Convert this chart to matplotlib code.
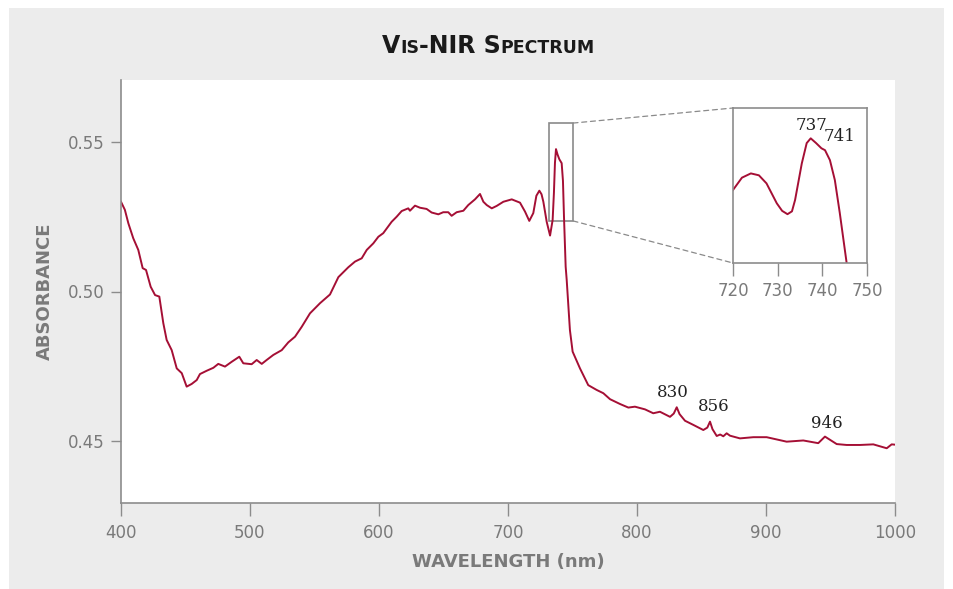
import matplotlib
matplotlib.use("Agg")
import matplotlib.pyplot as plt
from matplotlib.patches import Rectangle, ConnectionPatch

# spectrum (nm, absorbance)
wavelength = [400, 403, 405.7, 409.5, 413.4, 416.8, 419.4, 423, 426.4, 429.7,
              432.8, 435.4, 439.3, 443.2, 447.1, 450.9, 454.8, 458.7, 461.2, 466.4,
              471.6, 475.4, 480.6, 485.8, 491.7, 494.8, 501.3, 505.2, 509.1, 512.9,
              518.1, 524.6, 529.7, 534.9, 540.1, 546.5, 554.3, 562, 568.5, 576.2,
              581.4, 586.6, 590.5, 595.6, 599.5, 603.3, 609.8, 613.7, 617.6, 622.7,
              624, 627.9, 631.8, 636.9, 640.8, 646, 649.8, 653.7, 656.3, 660.2,
              665.4, 669.2, 674.4, 678.3, 680.9, 683.5, 687.4, 691.2, 696.4, 702.9,
              709.3, 713.2, 716.5, 719.6, 722, 724.3, 726, 727.4, 730, 732.6,
              734.6, 735.6, 736.4, 737.2, 738.4, 739.8, 741.6, 742.6, 743.4, 744.7,
              745.5, 748, 750.1, 755.8, 762.2, 768.7, 773.9, 779.1, 786.8, 793.3,
              798.4, 806.2, 812.6, 817.8, 825.6, 828.5, 830.8, 833, 837.2, 843.7,
              851.4, 854.5, 856.6, 858.5, 861.8, 864.5, 866.9, 869.5, 872.1, 879.8,
              890.2, 900.5, 916, 928.9, 940.5, 945.7, 954.8, 962.5, 972.9, 983.2,
              993.6, 997.4, 1000]
absorbance = [0.5300, 0.5273, 0.5228, 0.5178, 0.5139, 0.5078, 0.5072, 0.5016, 0.4988, 0.4983,
              0.4894, 0.4838, 0.4804, 0.4743, 0.4727, 0.4682, 0.4691, 0.4704, 0.4724, 0.4735,
              0.4745, 0.4758, 0.4749, 0.4765, 0.4782, 0.4760, 0.4757, 0.4771, 0.4758, 0.4771,
              0.4788, 0.4804, 0.4830, 0.4849, 0.4882, 0.4927, 0.4961, 0.4990, 0.5048, 0.5081,
              0.5100, 0.5111, 0.5139, 0.5161, 0.5183, 0.5195, 0.5233, 0.5250, 0.5269, 0.5278,
              0.5270, 0.5287, 0.5280, 0.5276, 0.5264, 0.5258, 0.5265, 0.5265, 0.5253, 0.5265,
              0.5270, 0.5289, 0.5308, 0.5326, 0.5300, 0.5289, 0.5278, 0.5286, 0.5300, 0.5308,
              0.5297, 0.5267, 0.5236, 0.5262, 0.5320, 0.5337, 0.5325, 0.5300, 0.5233, 0.5187,
              0.5239, 0.5330, 0.5430, 0.5476, 0.5458, 0.5442, 0.5429, 0.5370, 0.5250, 0.5083,
              0.5039, 0.4871, 0.4799, 0.4743, 0.4687, 0.4671, 0.4660, 0.4640, 0.4624, 0.4612,
              0.4615, 0.4606, 0.4593, 0.4598, 0.4581, 0.4592, 0.4613, 0.4590, 0.4568, 0.4554,
              0.4537, 0.4545, 0.4565, 0.4540, 0.4517, 0.4522, 0.4516, 0.4526, 0.4518, 0.4509,
              0.4513, 0.4513, 0.4498, 0.4502, 0.4493, 0.4515, 0.4490, 0.4487, 0.4487, 0.4489,
              0.4476, 0.4489, 0.4488]

# zoomed detail of the 720-750 nm band (inset)
inset_nm = [720, 722, 724, 725.8, 727.5, 729.8, 731, 732.2, 733.2, 733.9, 735.4, 736.5,
            737.4, 738.6, 739.8, 740.6, 741.7, 742.8, 743.9, 745.4, 746.5]
inset_abs = [0.5390, 0.5416, 0.5425, 0.5421, 0.5404, 0.5362, 0.5346, 0.5339, 0.5345, 0.5369,
             0.5446, 0.5489, 0.5499, 0.5489, 0.5478, 0.5474, 0.5453, 0.5411, 0.5342, 0.5239,
             0.5150]

main_peaks = ["830", "856", "946"]
main_peak_x = [827.9, 859.7, 947.3]
main_peak_y = [0.4664, 0.4617, 0.4560]
inset_peaks = ["737", "741"]
inset_peak_x = [737.6, 743.8]
inset_peak_y = [0.5526, 0.5503]

LINE = "#a50f35"
GREY_TXT = "#7a7a7a"
SPINE = "#8c8c8c"
PANEL = "#ececec"

fig = plt.figure(figsize=(9.54, 5.89), dpi=100)
fig.patch.set_facecolor("white")
fig.patches.append(Rectangle((9 / 954, 0), 935 / 954, 581 / 589, transform=fig.transFigure,
                             facecolor=PANEL, edgecolor="none", zorder=-10))

ax = fig.add_axes([121 / 954, 1 - 503 / 589, 774 / 954, 423 / 589])
ax.plot(wavelength, absorbance, color=LINE, lw=1.4)
ax.set_xlim(400, 1000)
ax.set_ylim(0.4293, 0.5707)
ax.set_xticks([400, 500, 600, 700, 800, 900, 1000])
ax.set_yticks([0.45, 0.50, 0.55])
ax.set_yticklabels(["0.45", "0.50", "0.55"])
for s in ["top", "right"]:
    ax.spines[s].set_visible(False)
for s in ["left", "bottom"]:
    ax.spines[s].set_color(SPINE)
    ax.spines[s].set_linewidth(1.2)
ax.tick_params(axis="x", length=9, width=1, color=SPINE, labelcolor=GREY_TXT,
               labelsize=12, pad=6)
ax.tick_params(axis="y", length=7, width=1, color=SPINE, labelcolor=GREY_TXT,
               labelsize=12, pad=5)
ax.set_xlabel("WAVELENGTH (nm)", color=GREY_TXT, fontsize=13, fontweight="bold", labelpad=8)
ax.set_ylabel("ABSORBANCE", color=GREY_TXT, fontsize=13, fontweight="bold", labelpad=10)

for lab, x, y in zip(main_peaks, main_peak_x, main_peak_y):
    ax.text(x, y, lab, ha="center", va="center", fontsize=12,
            family="DejaVu Serif", color="#222222")

# zoom box on the main spectrum
x0, x1, y0, y1 = 731.8, 750.4, 0.5236, 0.5563
ax.add_patch(Rectangle((x0, y0), x1 - x0, y1 - y0, fill=False, edgecolor="#8a8a8a", lw=1.2))

axin = fig.add_axes([733 / 954, 1 - 263 / 589, 134 / 954, 155 / 589])
axin.plot(inset_nm, inset_abs, color=LINE, lw=1.4)
axin.set_xlim(720, 750)
axin.set_ylim(y0, y1)
axin.set_xticks([720, 730, 740, 750])
axin.set_yticks([])
for s in axin.spines.values():
    s.set_color(SPINE)
    s.set_linewidth(1.2)
axin.tick_params(axis="x", length=9, width=1, color=SPINE, labelcolor=GREY_TXT,
                 labelsize=12, pad=5)
for lab, x, y in zip(inset_peaks, inset_peak_x, inset_peak_y):
    axin.text(x, y, lab, ha="center", va="center", fontsize=12,
              family="DejaVu Serif", color="#222222")

for ya, yb in [(y1, 1), (y0, 0)]:
    con = ConnectionPatch(xyA=(x1, ya), coordsA=ax.transData, xyB=(0, yb),
                          coordsB=axin.transAxes, color="#8a8a8a", lw=0.9, ls=(0, (4, 3)))
    fig.add_artist(con)

# title in small caps: build it from pieces, then centre it
pieces = [("V", 17), ("IS", 12.5), ("-NIR S", 17), ("PECTRUM", 12.5)]
renderer = fig.canvas.get_renderer()
texts = []
for s, size in pieces:
    t = fig.text(0, 1 - 53 / 589, s, fontsize=size, fontweight="bold", color="#1a1a1a",
                 ha="left", va="baseline")
    texts.append(t)
widths = [t.get_window_extent(renderer).width for t in texts]
x = 488.5 - sum(widths) / 2
for t, w in zip(texts, widths):
    t.set_x(x / 954)
    x += w

fig.savefig("out.png", dpi=100, facecolor=fig.get_facecolor())
